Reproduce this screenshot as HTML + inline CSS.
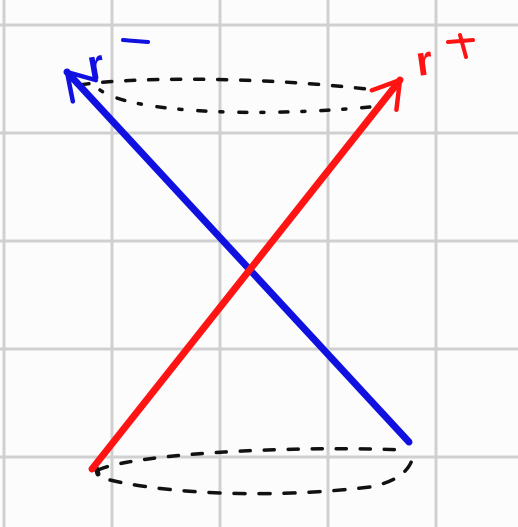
<!DOCTYPE html>
<html><head><meta charset="utf-8"><style>
html,body{margin:0;padding:0;background:#fcfcfc;}
svg{display:block}
</style></head><body>
<svg id="c" width="518" height="527" viewBox="0 0 518 527">
<g id="grid" stroke="#d0d0d0" stroke-width="3"></g>
<g fill="none" stroke="#111" stroke-width="3.5" stroke-linecap="round">
 <path d="M80,85 C120,78 250,75 375,90" stroke-dasharray="9,14"/>
 <path d="M100,90 C130,112 250,118 370,107" stroke-dasharray="3,16,8,14"/>
</g>
<g fill="none" stroke="#111" stroke-width="3.5" stroke-linecap="round">
 <path d="M98,470 C130,455 280,445 405,450" stroke-dasharray="10,14"/>
 <path d="M110,480 C160,492 260,500 370,487 Q405,480 412,460" stroke-dasharray="11,14"/>
 <path d="M95,464 L98,474" stroke-width="5"/>
</g>
<g id="vectors"></g>
<g>
 <text x="90" y="80" fill="#1010e0" font-family="Liberation Sans, sans-serif" font-size="42" font-weight="bold" transform="rotate(-10 90 80)">r</text>
 <path d="M123,40 L148,42" stroke="#1010e0" stroke-width="4" stroke-linecap="round"/>
</g>
<g>
 <text x="418" y="76" fill="#ff1414" font-family="Liberation Sans, sans-serif" font-size="42" font-weight="bold" transform="rotate(-8 418 76)">r</text>
 <path d="M448,42 L473,40 M460,35 L466,57" stroke="#ff1414" stroke-width="4" stroke-linecap="round" fill="none"/>
</g>
</svg>
<script>
const gridX=[4,112,220,328,436];
const gridY=[25,133,241,349,457];
const vecNames=['r-minus-vector','r-plus-vector'];
const vecColors=['#1010e0','#ff1414'];
const vecStart=[[409,442],[92,469]];
const vecEnd=[[67,72],[400,80]];
const ns='http://www.w3.org/2000/svg';
const g=document.getElementById('grid');
gridX.forEach(x=>{const l=document.createElementNS(ns,'line');
l.setAttribute('x1',x);l.setAttribute('x2',x);l.setAttribute('y1',0);l.setAttribute('y2',527);


g.appendChild(l);});
gridY.forEach(y=>{const l=document.createElementNS(ns,'line');
l.setAttribute('y1',y);l.setAttribute('y2',y);l.setAttribute('x1',0);l.setAttribute('x2',518);


g.appendChild(l);});
const v=document.getElementById('vectors');
vecNames.forEach((n,i)=>{
 const [x1,y1]=vecStart[i],[x2,y2]=vecEnd[i];
 const gr=document.createElementNS(ns,'g');
 
 
 const l=document.createElementNS(ns,'line');
 l.setAttribute('x1',x1);l.setAttribute('y1',y1);l.setAttribute('x2',x2);l.setAttribute('y2',y2);
 l.setAttribute('stroke',vecColors[i]);l.setAttribute('stroke-width',7);l.setAttribute('stroke-linecap','round');
 gr.appendChild(l);
 const a=Math.atan2(y1-y2,x1-x2),L=30;
 const p=document.createElementNS(ns,'path');
 const ax=x2+L*Math.cos(a+0.55),ay=y2+L*Math.sin(a+0.55),bx=x2+L*Math.cos(a-0.55),by=y2+L*Math.sin(a-0.55);
 p.setAttribute('d',`M${ax},${ay} L${x2},${y2} L${bx},${by}`);
 p.setAttribute('fill','none');p.setAttribute('stroke',vecColors[i]);p.setAttribute('stroke-width',4.5);
 p.setAttribute('stroke-linecap','round');p.setAttribute('stroke-linejoin','round');
 
 
 gr.appendChild(p);
 v.appendChild(gr);
});
</script>
</body></html>
